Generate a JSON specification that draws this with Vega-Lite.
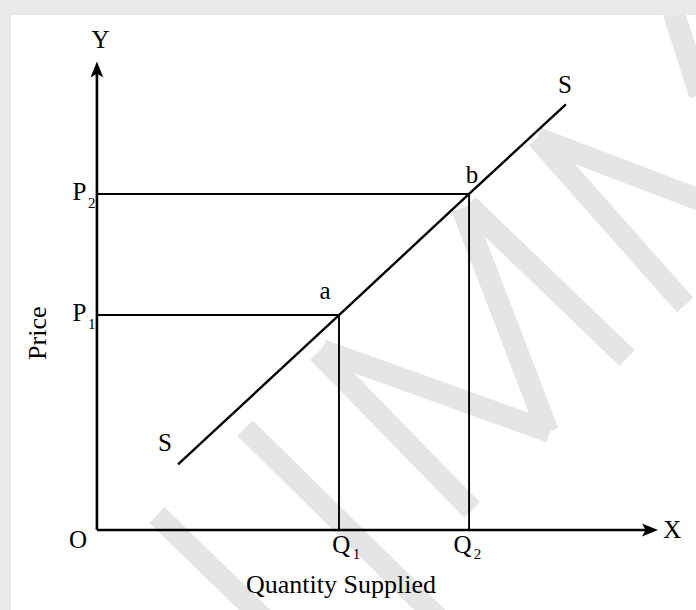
{
  "$schema": "https://vega.github.io/schema/vega-lite/v6.json",
  "width": 685,
  "height": 595,
  "autosize": {"type": "none"},
  "padding": {"left": 11, "top": 15, "right": 0, "bottom": 0},
  "background": "#e9e9e9",
  "config": {
    "view": {"fill": "#ffffff", "stroke": null},
    "text": {"font": "Liberation Serif", "color": "#000000"}
  },
  "datasets": {
    "watermark": [
      {"x": 9.92, "y": 2.81, "x2": 27.77, "y2": -16.88},
      {"x": 24.46, "y": 19.13, "x2": 56.69, "y2": -16.88},
      {"x": 36.53, "y": 33.38, "x2": 61.98, "y2": 3.75},
      {"x": 37.19, "y": 33.75, "x2": 74.88, "y2": 18.38},
      {"x": 60.33, "y": 60.38, "x2": 74.55, "y2": 18.38},
      {"x": 61.32, "y": 60.94, "x2": 87.6, "y2": 32.25},
      {"x": 72.73, "y": 73.5, "x2": 97.19, "y2": 42.19},
      {"x": 72.73, "y": 73.5, "x2": 100.5, "y2": 61.5},
      {"x": 94.38, "y": 100.3, "x2": 99.67, "y2": 81.57}
    ],
    "guides": [
      {"x": 0, "y": 63, "x2": 61.5, "y2": 63},
      {"x": 0, "y": 40.3, "x2": 40, "y2": 40.3},
      {"x": 40, "y": 0, "x2": 40, "y2": 40.3},
      {"x": 61.5, "y": 0, "x2": 61.5, "y2": 63}
    ],
    "axes": [
      {"x": 0, "y": 0, "x2": 0, "y2": 86},
      {"x": 0, "y": 0, "x2": 91, "y2": 0}
    ],
    "supply": [
      {"x": 13.4, "y": 12.3},
      {"x": 40, "y": 40.3},
      {"x": 61.5, "y": 63},
      {"x": 77.5, "y": 79.8}
    ],
    "arrowheads": [
      {"dir": "up", "x": 0, "y": 86.35},
      {"dir": "right", "x": 91.4, "y": 0}
    ],
    "labels": [
      {"text": "Y", "x": 0.58, "y": 91.9},
      {"text": "X", "x": 95.1, "y": 0},
      {"text": "O", "x": -3.14, "y": -1.9},
      {"text": "P", "x": -2.9, "y": 40.6},
      {"text": "P", "x": -2.9, "y": 63.3},
      {"text": "Q", "x": 40.4, "y": -2.8},
      {"text": "Q", "x": 60.4, "y": -2.8},
      {"text": "a", "x": 37.7, "y": 44.8},
      {"text": "b", "x": 62.0, "y": 66.6},
      {"text": "S", "x": 11.24, "y": 16.3},
      {"text": "S", "x": 77.36, "y": 83.4}
    ],
    "subscripts": [
      {"text": "1", "x": -0.85, "y": 38.6},
      {"text": "2", "x": -0.85, "y": 61.3},
      {"text": "1", "x": 42.9, "y": -4.5},
      {"text": "2", "x": 62.9, "y": -4.5}
    ],
    "titles": [
      {"text": "Quantity Supplied", "x": 40.33, "y": -10.3, "angle": 0},
      {"text": "Price", "x": -9.75, "y": 36.9, "angle": 270}
    ]
  },
  "layer": [
    {
      "data": {"name": "watermark"},
      "mark": {"type": "rule", "color": "#e5e5e5", "strokeWidth": 22, "strokeCap": "butt", "clip": true},
      "encoding": {
        "x": {"field": "x", "type": "quantitative", "scale": {"domain": [-14.2, 99], "nice": false, "zero": false}, "axis": null},
        "y": {"field": "y", "type": "quantitative", "scale": {"domain": [-15, 96.56], "nice": false, "zero": false}, "axis": null},
        "x2": {"field": "x2"},
        "y2": {"field": "y2"}
      }
    },
    {
      "data": {"name": "guides"},
      "mark": {"type": "rule", "color": "#000000", "strokeWidth": 1.9},
      "encoding": {
        "x": {"field": "x", "type": "quantitative"},
        "y": {"field": "y", "type": "quantitative"},
        "x2": {"field": "x2"},
        "y2": {"field": "y2"}
      }
    },
    {
      "data": {"name": "axes"},
      "mark": {"type": "rule", "color": "#000000", "strokeWidth": 2.6},
      "encoding": {
        "x": {"field": "x", "type": "quantitative"},
        "y": {"field": "y", "type": "quantitative"},
        "x2": {"field": "x2"},
        "y2": {"field": "y2"}
      }
    },
    {
      "data": {"name": "supply"},
      "mark": {"type": "line", "color": "#000000", "strokeWidth": 2.4},
      "encoding": {
        "x": {"field": "x", "type": "quantitative"},
        "y": {"field": "y", "type": "quantitative"}
      }
    },
    {
      "data": {"name": "arrowheads"},
      "mark": {"type": "point", "filled": true, "color": "#000000", "opacity": 1, "size": 256},
      "encoding": {
        "x": {"field": "x", "type": "quantitative"},
        "y": {"field": "y", "type": "quantitative"},
        "shape": {
          "field": "dir",
          "type": "nominal",
          "scale": {
            "domain": ["up", "right"],
            "range": ["M0,-1 L0.8,1 L0,0.55 L-0.8,1 Z", "M1,0 L-1,0.8 L-0.55,0 L-1,-0.8 Z"]
          },
          "legend": null
        }
      }
    },
    {
      "data": {"name": "labels"},
      "mark": {"type": "text", "fontSize": 25, "align": "center", "baseline": "middle"},
      "encoding": {
        "x": {"field": "x", "type": "quantitative"},
        "y": {"field": "y", "type": "quantitative"},
        "text": {"field": "text"}
      }
    },
    {
      "data": {"name": "subscripts"},
      "mark": {"type": "text", "fontSize": 15, "align": "center", "baseline": "middle"},
      "encoding": {
        "x": {"field": "x", "type": "quantitative"},
        "y": {"field": "y", "type": "quantitative"},
        "text": {"field": "text"}
      }
    },
    {
      "data": {"name": "titles"},
      "mark": {"type": "text", "fontSize": 26, "align": "center", "baseline": "middle"},
      "encoding": {
        "x": {"field": "x", "type": "quantitative"},
        "y": {"field": "y", "type": "quantitative"},
        "text": {"field": "text"},
        "angle": {"field": "angle", "type": "quantitative", "scale": null}
      }
    }
  ]
}
